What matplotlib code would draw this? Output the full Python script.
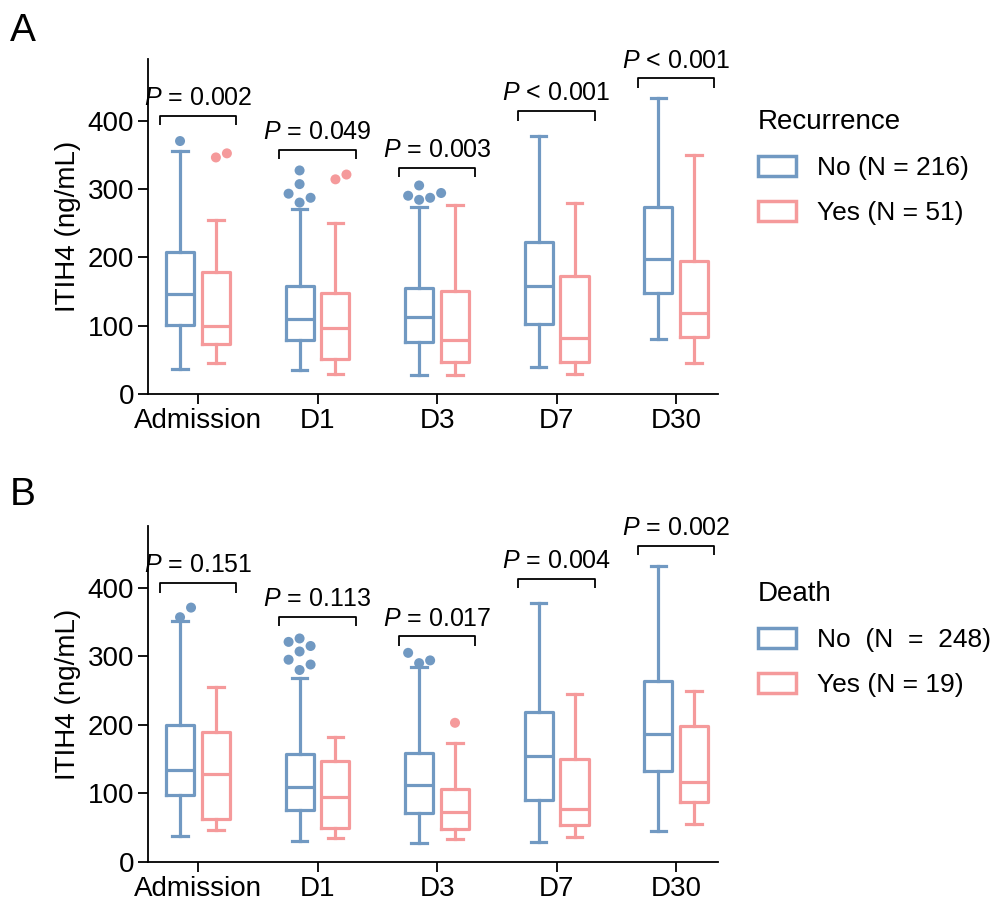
import matplotlib
matplotlib.use('Agg')
import matplotlib.pyplot as plt
from matplotlib.patches import Patch
import numpy as np

plt.rcParams['font.family'] = ['Liberation Sans', 'DejaVu Sans']
plt.rcParams['mathtext.fontset'] = 'custom'
plt.rcParams['mathtext.it'] = 'Liberation Sans:italic'
plt.rcParams['mathtext.rm'] = 'Liberation Sans'

categories = ['Admission', 'D1', 'D3', 'D7', 'D30']
yticks = [0, 100, 200, 300, 400]

# ---- Panel A: Recurrence ----
a_no_whislo = [36, 35, 28, 39, 80]
a_no_q1 = [101, 79, 76, 102, 148]
a_no_med = [146, 110, 113, 158, 197]
a_no_q3 = [207, 158, 155, 222, 273]
a_no_whishi = [356, 270, 273, 378, 433]
a_no_fliers = [[370], [327, 307, 293, 287, 280], [305, 294, 290, 287, 284], [], []]

a_yes_whislo = [46, 29, 28, 29, 45]
a_yes_q1 = [73, 51, 47, 47, 83]
a_yes_med = [100, 96, 79, 82, 118]
a_yes_q3 = [178, 147, 151, 173, 194]
a_yes_whishi = [255, 250, 276, 280, 350]
a_yes_fliers = [[346, 352], [314, 321], [], [], []]

a_pvals = ['= 0.002', '= 0.049', '= 0.003', '< 0.001', '< 0.001']
a_bracket = [407, 357, 331, 414, 462]
a_title = 'Recurrence'
a_labels = ['No (N = 216)', 'Yes (N = 51)']

# ---- Panel B: Death ----
b_no_whislo = [38, 30, 27, 29, 45]
b_no_q1 = [97, 76, 71, 90, 133]
b_no_med = [134, 109, 112, 155, 186]
b_no_q3 = [200, 157, 159, 219, 264]
b_no_whishi = [352, 269, 285, 378, 432]
b_no_fliers = [[371, 357], [326, 321, 315, 307, 295, 288, 280], [305, 294, 290], [], []]

b_yes_whislo = [46, 35, 34, 37, 55]
b_yes_q1 = [62, 50, 48, 54, 87]
b_yes_med = [129, 95, 73, 77, 117]
b_yes_q3 = [189, 148, 107, 150, 198]
b_yes_whishi = [255, 183, 173, 245, 250]
b_yes_fliers = [[], [], [203], [], []]

b_pvals = ['= 0.151', '= 0.113', '= 0.017', '= 0.004', '= 0.002']
b_bracket = [407, 358, 329, 413, 461]
b_title = 'Death'
b_labels = ['No  (N  =  248)', 'Yes (N = 19)']

BLUE = '#7199c2'
PINK = '#f59a9b'
FS = 20
PFS = 18
LFS = 19

fig = plt.figure(figsize=(9.96, 9.05), dpi=100)


def make_stats(whislo, q1, med, q3, whishi):
    out = []
    for i in range(len(whislo)):
        out.append(dict(whislo=whislo[i], q1=q1[i], med=med[i], q3=q3[i],
                        whishi=whishi[i], fliers=[]))
    return out


def swarm(ax, xc, vals, color, diam_px=11.0):
    if not vals:
        return
    t = ax.transData
    x0, y0 = t.transform((0, 0))
    x1, y1 = t.transform((1, 1))
    pxx = x1 - x0
    pxy = y1 - y0
    placed = []
    for v in sorted(vals):
        for k in [0, 1, -1, 2, -2, 3, -3]:
            px = k * diam_px
            py = v * pxy
            ok = all(np.hypot(px - qx, py - qy) >= diam_px * 0.95 for qx, qy in placed)
            if ok:
                placed.append((px, py))
                break
    xs = [xc + p[0] / pxx for p in placed]
    ys = [p[1] / pxy for p in placed]
    ax.scatter(xs, ys, s=52, color=color, edgecolors='none', zorder=4)


def panel(rect, no, yes, no_fl, yes_fl, pvals, brackets, title, labels, letter,
          legend_top, letter_y):
    ax = fig.add_axes(rect)
    pos = np.arange(len(categories))
    off = 0.15
    w = 0.235
    for stats, fl, col, sgn in [(no, no_fl, BLUE, -1), (yes, yes_fl, PINK, 1)]:
        props = dict(color=col, linewidth=2.3)
        ax.bxp(stats, positions=pos + sgn * off, widths=w, showfliers=False,
               capwidths=w * 0.55,
               boxprops=props, whiskerprops=props, capprops=props,
               medianprops=props, manage_ticks=False)
    ax.set_xlim(-0.418, 4.35)
    ax.set_ylim(0, 490)
    for i in range(len(categories)):
        swarm(ax, pos[i] - off, no_fl[i], BLUE)
        swarm(ax, pos[i] + off, yes_fl[i], PINK)
    # brackets
    for i in range(len(categories)):
        xl, xr = pos[i] - 0.32, pos[i] + 0.32
        yb = brackets[i]
        ax.plot([xl, xl, xr, xr], [yb - 14, yb, yb, yb - 14], color='black', lw=1.3,
                solid_capstyle='butt', clip_on=False)
        ax.annotate(r'$\it{P}$ ' + pvals[i], xy=(pos[i], yb), xytext=(0, 4),
                    textcoords='offset points', ha='center', va='bottom', fontsize=PFS,
                    annotation_clip=False)
    ax.set_xticks(pos)
    ax.set_xticklabels(categories, fontsize=FS)
    ax.set_yticks(yticks)
    ax.set_yticklabels([str(v) for v in yticks], fontsize=FS)
    ax.tick_params(axis='both', length=7, width=1.3, pad=3)
    for s in ['top', 'right']:
        ax.spines[s].set_visible(False)
    for s in ['left', 'bottom']:
        ax.spines[s].set_linewidth(1.3)
    ax.set_ylabel('ITIH4 (ng/mL)', fontsize=FS, labelpad=5)
    handles = [Patch(facecolor='white', edgecolor=BLUE, linewidth=2.5),
               Patch(facecolor='white', edgecolor=PINK, linewidth=2.5)]
    leg = fig.legend(handles, labels, title=title, loc='upper left',
                     bbox_to_anchor=(758 / 996, 1 - legend_top / 905),
                     frameon=False, fontsize=LFS, title_fontsize=FS,
                     handlelength=1.45, handleheight=0.75, handletextpad=0.8,
                     labelspacing=0.8, borderpad=0, borderaxespad=0)
    leg._legend_box.align = 'left'
    fig.text(10 / 996, 1 - letter_y / 905, letter, fontsize=28, va='baseline')
    return ax


panel([148 / 996, 1 - 394 / 905, 570 / 996, 335 / 905],
      make_stats(a_no_whislo, a_no_q1, a_no_med, a_no_q3, a_no_whishi),
      make_stats(a_yes_whislo, a_yes_q1, a_yes_med, a_yes_q3, a_yes_whishi),
      a_no_fliers, a_yes_fliers, a_pvals, a_bracket, a_title, a_labels, 'A', 109, 41)

panel([148 / 996, 1 - 862 / 905, 570 / 996, 336 / 905],
      make_stats(b_no_whislo, b_no_q1, b_no_med, b_no_q3, b_no_whishi),
      make_stats(b_yes_whislo, b_yes_q1, b_yes_med, b_yes_q3, b_yes_whishi),
      b_no_fliers, b_yes_fliers, b_pvals, b_bracket, b_title, b_labels, 'B', 581, 505)

fig.savefig('out.png', dpi=100)
